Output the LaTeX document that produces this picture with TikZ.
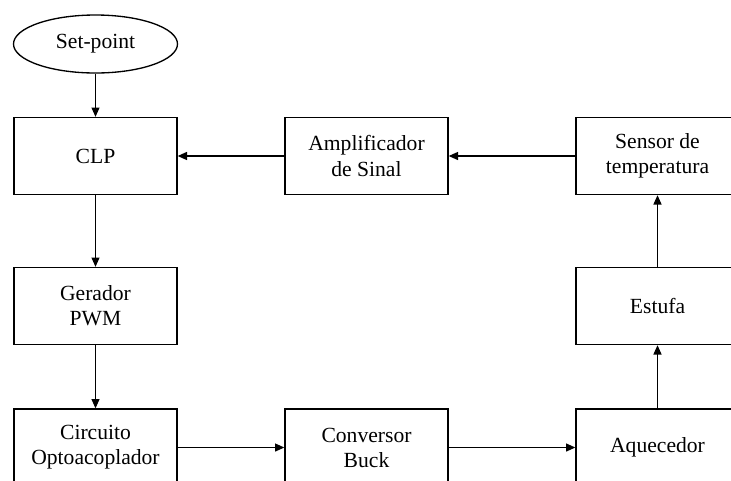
\documentclass[tikz,border=0pt]{standalone}
\usepackage{fontspec}
\setmainfont{Liberation Serif}
\usetikzlibrary{arrows.meta,shapes}

\begin{document}
\begin{tikzpicture}[x=0.75pt,y=-0.75pt,>={Triangle[length=7pt,width=6pt]},line width=1pt,
bloco/.style={draw,rectangle,minimum width=122.25pt,minimum height=57.75pt,inner sep=0pt,align=center,font=\fontsize{16.2}{18.8}\selectfont},
elipse/.style={draw,ellipse,minimum width=123pt,minimum height=43.5pt,inner sep=0pt,font=\fontsize{16.2}{18.8}\selectfont}]
\useasboundingbox(0,0)rectangle(731,480);
\clip(0,0)rectangle(731,480);
\node[elipse](sp)at(95.5,44){Set-point};
\node[bloco](clp)at(95.5,156){CLP};
\node[bloco](amp)at(366.5,156){Amplificador\\de Sinal};
\node[bloco](sen)at(657.5,156){Sensor de\\temperatura};
\node[bloco](pwm)at(95.5,306){Gerador\\PWM};
\node[bloco](est)at(657.5,306){Estufa};
\node[bloco](opto)at(95.5,447.5){Circuito\\Optoacoplador};
\node[bloco](buck)at(366.5,447.5){Conversor\\Buck};
\node[bloco](aq)at(657.5,447.5){Aquecedor};
\draw[->](sp)--(clp);
\draw[->](clp)--(pwm);
\draw[->](pwm)--(opto);
\draw[->](opto)--(buck);
\draw[->](buck)--(aq);
\draw[->](aq)--(est);
\draw[->](est)--(sen);
\draw[->](sen)--(amp);
\draw[->](amp)--(clp);
\end{tikzpicture}
\end{document}
